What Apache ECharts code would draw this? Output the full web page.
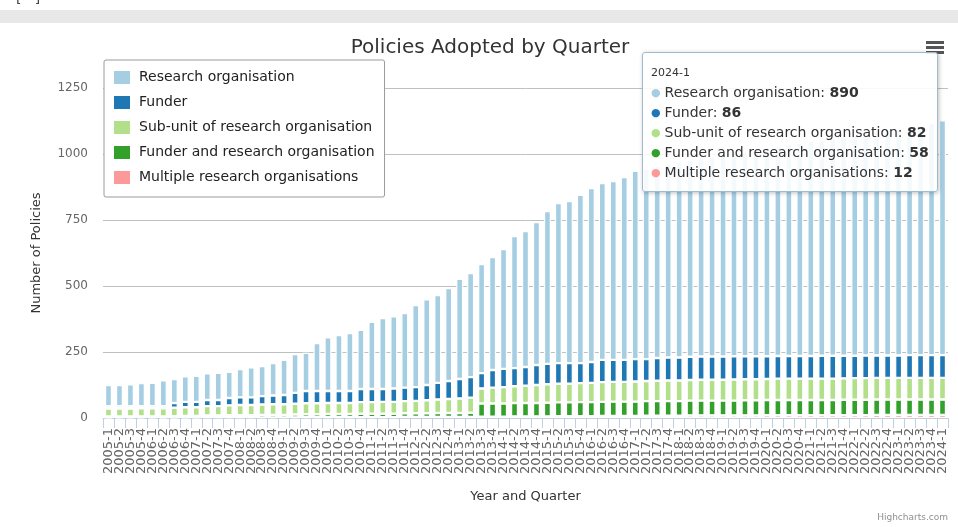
<!DOCTYPE html>
<html>
<head>
<meta charset="utf-8">
<script src="https://cdn.jsdelivr.net/npm/echarts@6/dist/echarts.min.js"></script>
<style>
  html, body { margin: 0; padding: 0; background: #ffffff; }
  #chart { width: 958px; height: 527px; }
</style>
</head>
<body>
<div id="chart"></div>
<script>
// Quarter categories, 2005-1 .. 2024-1
const quarters = [
  '2005-1','2005-2','2005-3','2005-4','2006-1','2006-2','2006-3','2006-4',
  '2007-1','2007-2','2007-3','2007-4','2008-1','2008-2','2008-3','2008-4',
  '2009-1','2009-2','2009-3','2009-4','2010-1','2010-2','2010-3','2010-4',
  '2011-1','2011-2','2011-3','2011-4','2012-1','2012-2','2012-3','2012-4',
  '2013-1','2013-2','2013-3','2013-4','2014-1','2014-2','2014-3','2014-4',
  '2015-1','2015-2','2015-3','2015-4','2016-1','2016-2','2016-3','2016-4',
  '2017-1','2017-2','2017-3','2017-4','2018-1','2018-2','2018-3','2018-4',
  '2019-1','2019-2','2019-3','2019-4','2020-1','2020-2','2020-3','2020-4',
  '2021-1','2021-2','2021-3','2021-4','2022-1','2022-2','2022-3','2022-4',
  '2023-1','2023-2','2023-3','2023-4','2024-1'
];

// Policies per quarter, by type of adopting organisation
const researchOrg = [
  80, 80, 83, 87, 88, 98, 91, 97, 99, 101, 103, 99, 107, 114, 114, 123,
  133, 147, 145, 182, 204, 212, 220, 224, 254, 269, 273, 283, 311, 325, 333, 352,
  379, 394, 413, 428, 454, 500, 515, 541, 579, 606, 614, 637, 659, 670, 678, 693,
  713, 722, 728, 733, 741, 746, 752, 757, 765, 771, 776, 784, 791, 795, 801, 807,
  815, 819, 824, 830, 836, 841, 848, 853, 860, 866, 872, 880, 890
];
const funder = [
  9, 9, 9, 8, 8, 8, 18, 20, 20, 23, 23, 28, 29, 29, 32, 33,
  35, 41, 46, 46, 45, 45, 45, 50, 50, 49, 51, 51, 52, 58, 63, 68,
  74, 78, 58, 67, 69, 69, 71, 76, 77, 78, 78, 76, 79, 84, 83, 83,
  85, 83, 86, 87, 87, 88, 88, 88, 88, 88, 87, 87, 86, 86, 86, 86,
  86, 87, 87, 86, 85, 86, 85, 85, 85, 86, 86, 86, 86
];
const subUnit = [
  30, 30, 30, 31, 31, 31, 32, 33, 33, 35, 35, 37, 38, 38, 39, 40,
  40, 41, 42, 42, 42, 42, 42, 44, 44, 45, 45, 46, 47, 49, 51, 53,
  55, 57, 57, 60, 62, 63, 65, 68, 70, 71, 71, 72, 73, 75, 75, 75,
  76, 76, 77, 78, 78, 78, 79, 79, 79, 80, 80, 80, 80, 81, 81, 81,
  81, 81, 81, 81, 82, 82, 82, 82, 82, 82, 82, 82, 82
];
const funderAndResearch = [
  5, 5, 5, 5, 5, 5, 6, 7, 7, 8, 8, 9, 9, 9, 10, 10,
  10, 11, 11, 11, 12, 12, 12, 13, 13, 13, 13, 14, 14, 14, 15, 15,
  15, 16, 50, 50, 50, 51, 51, 51, 52, 52, 52, 53, 53, 53, 54, 54,
  54, 55, 55, 55, 55, 56, 56, 56, 56, 56, 57, 57, 57, 57, 57, 57,
  57, 57, 57, 58, 58, 58, 58, 58, 58, 58, 58, 58, 58
];
const multipleOrgs = [
  1, 1, 1, 1, 1, 1, 1, 1, 1, 2, 2, 2, 2, 2, 2, 2,
  2, 2, 3, 3, 3, 3, 3, 3, 3, 3, 3, 4, 4, 4, 4, 4,
  4, 4, 5, 5, 5, 6, 6, 6, 6, 7, 7, 7, 7, 8, 8, 8,
  8, 9, 9, 9, 9, 10, 10, 10, 10, 10, 10, 10, 11, 11, 11, 11,
  11, 11, 11, 11, 11, 11, 12, 12, 12, 12, 12, 12, 12
];

const yTicks = [0, 250, 500, 750, 1000, 1250];

const seriesNames = [
  'Research organisation',
  'Funder',
  'Sub-unit of research organisation',
  'Funder and research organisation',
  'Multiple research organisations'
];
const seriesColors = ['#a6cee3', '#1f78b4', '#b2df8a', '#33a02c', '#fb9a99'];
const seriesValues = [researchOrg, funder, subUnit, funderAndResearch, multipleOrgs];

const FONT = '"DejaVu Sans", Verdana, sans-serif';

// Stack from the bottom up: the last legend entry sits lowest
const series = [];
for (let k = seriesNames.length - 1; k >= 0; k--) {
  series.push({
    name: seriesNames[k],
    type: 'bar',
    stack: 'policies',
    data: seriesValues[k],
    barWidth: 7,
    itemStyle: { color: seriesColors[k], borderColor: '#ffffff', borderWidth: 1.2 },
    emphasis: { disabled: true }
  });
}

const chart = echarts.init(document.getElementById('chart'), null, { renderer: 'canvas' });

chart.setOption({
  animation: false,
  backgroundColor: '#ffffff',
  color: seriesColors,
  title: {
    text: 'Policies Adopted by Quarter',
    left: 485,
    top: 33,
    textAlign: 'center',
    textStyle: { fontFamily: FONT, fontSize: 20, fontWeight: 'normal', color: '#333333' }
  },
  grid: { left: 103, right: 10, top: 88, bottom: 109, containLabel: false },
  legend: {
    orient: 'vertical',
    left: 104,
    top: 60,
    data: seriesNames,
    icon: 'rect',
    itemWidth: 18,
    itemHeight: 15,
    itemGap: 8,
    padding: [9, 10, 11, 8],
    backgroundColor: '#ffffff',
    borderColor: '#9a9a9a',
    borderWidth: 1,
    borderRadius: 2,
    selectedMode: false,
    textStyle: { fontFamily: FONT, fontSize: 14, color: '#222222', padding: [0, 0, 0, 3] }
  },
  tooltip: {
    trigger: 'axis',
    triggerOn: 'none',
    alwaysShowContent: true,
    transitionDuration: 0,
    axisPointer: { type: 'none' },
    position: [642, 52],
    backgroundColor: 'rgba(255,255,255,0.88)',
    borderColor: '#9dbcd0',
    borderWidth: 1,
    padding: [12, 8, 8, 8],
    extraCssText: 'width:296px;height:140px;box-sizing:border-box;border-radius:3px;box-shadow:1px 1px 4px rgba(0,0,0,0.25);',
    formatter: function (params) {
      const idx = params[0].dataIndex;
      let html = '<div style="font-family:' + FONT.replace(/"/g, "'") + ';color:#333;">';
      html += '<div style="font-size:11px;line-height:16px;height:16px;margin-bottom:1px;">' + quarters[idx] + '</div>';
      seriesNames.forEach(function (name, k) {
        html += '<div style="font-size:14px;line-height:20px;height:20px;white-space:nowrap;overflow:visible;">' +
          '<span style="color:' + seriesColors[k] + ';font-size:11px;line-height:0;margin-right:4px;vertical-align:1px;">\u25CF</span>' +
          name + ': <b>' + seriesValues[k][idx] + '</b></div>';
      });
      html += '</div>';
      return html;
    }
  },
  xAxis: {
    type: 'category',
    data: quarters,
    name: 'Year and Quarter',
    nameLocation: 'middle',
    nameGap: 72,
    nameTextStyle: { fontFamily: FONT, fontSize: 13, color: '#333333' },
    axisLine: { lineStyle: { color: '#C0D0E0', width: 1 } },
    axisTick: { show: true, length: 10, lineStyle: { color: '#C0D0E0' } },
    axisLabel: {
      rotate: 90,
      interval: 0,
      margin: 10,
      fontFamily: FONT,
      fontSize: 13,
      color: '#666666'
    }
  },
  yAxis: {
    type: 'value',
    min: 0,
    max: yTicks[yTicks.length - 1],
    interval: yTicks[1] - yTicks[0],
    name: 'Number of Policies',
    nameLocation: 'middle',
    nameGap: 60,
    nameRotate: 90,
    nameTextStyle: { fontFamily: FONT, fontSize: 13, color: '#333333' },
    axisLine: { show: false },
    axisTick: { show: false },
    axisLabel: {
      fontFamily: FONT, fontSize: 12, color: '#666666', margin: 15,
      formatter: function (v) { return String(v); }
    },
    splitLine: { lineStyle: { color: '#C0C0C0', width: 1 } }
  },
  graphic: [
    // page strip above the chart card
    { type: 'rect', left: 0, top: 10, shape: { width: 958, height: 13 }, style: { fill: '#e8e8e8' }, z: 0 },
    { type: 'text', left: 16, top: -9, style: { text: '[   ]', fontFamily: FONT, fontSize: 14, fill: '#444444' } },
    // export menu icon
    { type: 'rect', left: 926, top: 41, shape: { width: 18, height: 3 }, style: { fill: '#555555' } },
    { type: 'rect', left: 926, top: 46, shape: { width: 18, height: 3 }, style: { fill: '#555555' } },
    { type: 'rect', left: 926, top: 51, shape: { width: 18, height: 3 }, style: { fill: '#555555' } },
    // credits
    { type: 'text', right: 10, top: 513, style: { text: 'Highcharts.com', fontFamily: FONT, fontSize: 9, fill: '#909090' } }
  ],
  series: series
});

chart.dispatchAction({ type: 'showTip', seriesIndex: 0, dataIndex: quarters.length - 1 });
</script>
</body>
</html>
